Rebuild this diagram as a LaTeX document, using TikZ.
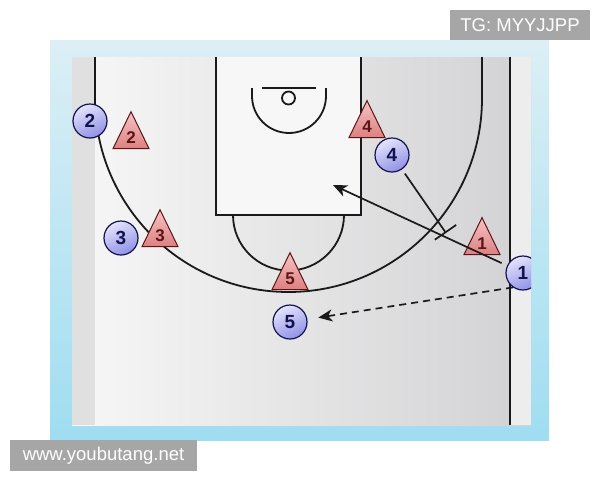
\documentclass[tikz,border=0pt]{standalone}
\usepackage{fontspec}
\setmainfont{Liberation Sans}
\usetikzlibrary{shapes.geometric,arrows.meta}
\definecolor{frameblueA}{HTML}{DCEFF5}
\definecolor{frameblueB}{HTML}{9FDDF1}
\definecolor{courtA}{HTML}{F7F7F7}
\definecolor{courtB}{HTML}{D2D2D4}
\definecolor{navy}{HTML}{12124E}
\definecolor{plA}{HTML}{E4E4FC}
\definecolor{plB}{HTML}{9090E6}
\definecolor{trA}{HTML}{F6C4C4}
\definecolor{trB}{HTML}{DC8080}
\definecolor{trline}{HTML}{5E1414}
\definecolor{wmgrey}{HTML}{A6A6A6}
\definecolor{lineink}{HTML}{1A1A1A}
\begin{document}
\begin{tikzpicture}[x=1pt,y=-1pt,
  courtline/.style={draw=lineink,line width=1.8pt},
  player/.style={circle,draw=navy,line width=1.2pt,top color=plA,bottom color=plB,shading angle=25,
     minimum size=34pt,inner sep=0pt,text=navy,font=\bfseries\fontsize{19}{19}\selectfont},
  defender/.style={isosceles triangle,isosceles triangle stretches,shape border rotate=90,
     draw=trline,line width=1pt,top color=trA,bottom color=trB,minimum width=36pt,minimum height=37pt,
     inner sep=0pt,text=trline,font=\bfseries\fontsize{17}{17}\selectfont},
  move/.style={draw=lineink,line width=1.7pt},
  tip/.style={-{Stealth[length=14pt,width=12pt,inset=4pt]}},
  wmbox/.style={fill=wmgrey,text=white,inner sep=0pt,font=\fontsize{18.5}{18.5}\selectfont}]
\useasboundingbox (0,0) rectangle (600,480);
\fill[white] (0,0) rectangle (600,480);
% frame and court
\shade[top color=frameblueA,bottom color=frameblueB] (50,40) rectangle (549,440);
\shade[left color=courtA,right color=courtB] (72,57) rectangle (531,425);
\fill[white!88!black] (72,57) rectangle (95,425);
\fill[white!93!black] (510,57) rectangle (531,425);
\fill[white!97!black] (216,57) rectangle (361,215);
% court lines
\draw[courtline] (95,57) -- (95,98.5) arc (180:0:193.5) -- (482,57);
\draw[courtline] (216,57) -- (216,215) -- (361,215) -- (361,57);
\draw[courtline] (233,215) arc (180:0:55.5);
\draw[courtline] (262,88) -- (316,88);
\draw[courtline] (288.5,98) circle (6.5);
\draw[courtline] (252,88) -- (252,96) arc (180:0:37) -- (326,88);
\draw[courtline] (510,57) -- (510,425);
% defenders
\node[defender] (d2) at (131,138) {2};
\node[defender] (d4) at (367,127) {4};
\node[defender] (d3) at (160,236) {3};
\node[defender] (d5) at (290,279) {5};
\node[defender] (d1) at (482,244) {1};
% attackers
\node[player] (p2) at (90,121) {2};
\node[player] (p3) at (121,238) {3};
\node[player] (p4) at (392,155) {4};
\node[player] (p5) at (290,322) {5};
\begin{scope}
\clip (72,57) rectangle (531,425);
\node[player] (p1) at (523,273) {1};
\end{scope}
% movements
\coordinate (cutend) at (333,185);
\coordinate (scr) at (446,233);
\draw[move,tip,shorten <=6pt] (p1) -- (cutend);
\draw[move,-{Bar[width=26pt]},shorten <=5pt] (p4) -- (scr);
\draw[move,tip,dash pattern=on 7pt off 5pt,shorten >=11pt] (p1.235) -- (p5);
% watermarks
\node[wmbox,minimum width=140pt,minimum height=30pt] (tg) at (520,25) {TG: MYYJJPP};
\node[wmbox,minimum width=187pt,minimum height=31pt] (www) at (103.5,455.5) {www.youbutang.net};
\end{tikzpicture}
\end{document}
